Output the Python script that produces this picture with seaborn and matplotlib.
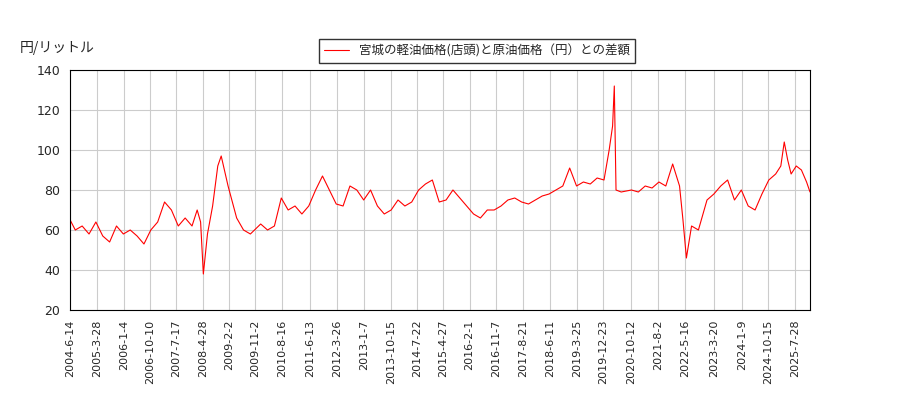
import pandas as pd
import numpy as np
import matplotlib.pyplot as plt
import seaborn as sns

sns.set_style("white")
plt.rcParams['font.family'] = ['Noto Sans CJK JP', 'DejaVu Sans']

# approximate readings (decimal year, yen/litre)
years = [2004.45, 2004.6, 2004.8, 2005.0, 2005.2, 2005.4, 2005.6, 2005.8, 2006.0, 2006.2, 2006.4,
         2006.6, 2006.8, 2007.0, 2007.2, 2007.4, 2007.6, 2007.8, 2008.0, 2008.15, 2008.25, 2008.33,
         2008.45, 2008.6, 2008.75, 2008.85, 2009.05, 2009.3, 2009.5, 2009.7, 2010.0, 2010.2, 2010.4,
         2010.6, 2010.8, 2011.0, 2011.2, 2011.4, 2011.6, 2011.8, 2012.0, 2012.2, 2012.4, 2012.6,
         2012.8, 2013.0, 2013.2, 2013.4, 2013.6, 2013.8, 2014.0, 2014.2, 2014.4, 2014.6, 2014.8,
         2015.0, 2015.2, 2015.4, 2015.6, 2015.8, 2016.0, 2016.2, 2016.4, 2016.6, 2016.8, 2017.0,
         2017.2, 2017.4, 2017.6, 2017.8, 2018.0, 2018.2, 2018.4, 2018.6, 2018.8, 2019.0, 2019.2,
         2019.4, 2019.6, 2019.8, 2020.0, 2020.15, 2020.25, 2020.3, 2020.35, 2020.5, 2020.8, 2021.0,
         2021.2, 2021.4, 2021.6, 2021.8, 2022.0, 2022.2, 2022.3, 2022.4, 2022.55, 2022.75, 2023.0,
         2023.2, 2023.4, 2023.6, 2023.8, 2024.0, 2024.2, 2024.4, 2024.6, 2024.8, 2025.0, 2025.15,
         2025.25, 2025.35, 2025.45, 2025.6, 2025.75, 2025.9, 2026.0]
values = [65, 60, 62, 58, 64, 57, 54, 62, 58, 60, 57,
          53, 60, 64, 74, 70, 62, 66, 62, 70, 64, 38,
          58, 72, 92, 97, 82, 66, 60, 58, 63, 60, 62,
          76, 70, 72, 68, 72, 80, 87, 80, 73, 72, 82,
          80, 75, 80, 72, 68, 70, 75, 72, 74, 80, 83,
          85, 74, 75, 80, 76, 72, 68, 66, 70, 70, 72,
          75, 76, 74, 73, 75, 77, 78, 80, 82, 91, 82,
          84, 83, 86, 85, 100, 112, 132, 80, 79, 80, 79,
          82, 81, 84, 82, 93, 82, 65, 46, 62, 60, 75,
          78, 82, 85, 75, 80, 72, 70, 78, 85, 88, 92,
          104, 95, 88, 92, 90, 84, 79]

tick_labels = ['2004-6-14', '2005-3-28', '2006-1-4', '2006-10-10', '2007-7-17', '2008-4-28',
               '2009-2-2', '2009-11-2', '2010-8-16', '2011-6-13', '2012-3-26', '2013-1-7',
               '2013-10-15', '2014-7-22', '2015-4-27', '2016-2-1', '2016-11-7', '2017-8-21',
               '2018-6-11', '2019-3-25', '2019-12-23', '2020-10-12', '2021-8-2', '2022-5-16',
               '2023-3-20', '2024-1-9', '2024-10-15', '2025-7-28']

def to_year(s):
    d = pd.Timestamp(s)
    return d.year + (d.dayofyear - 1) / 365.25

df = pd.DataFrame({'year': years, 'value': values})

fig = plt.figure(figsize=(9, 4), dpi=100)
ax = fig.add_axes([0.078, 0.225, 0.822, 0.6])
sns.lineplot(data=df, x='year', y='value', color='red', linewidth=0.8, ax=ax,
             label='宮城の軽油価格(店頭)と原油価格（円）との差額')
ax.set_xlim(to_year('2004-6-14'), 2026.0)
ax.set_ylim(20, 140)
ax.set_yticks(range(20, 141, 20))
ax.set_xticks([to_year(t) for t in tick_labels])
ax.set_xticklabels(tick_labels, rotation=90, fontsize=8, family='DejaVu Sans')
for t in ax.get_yticklabels():
    t.set_family('DejaVu Sans')
ax.tick_params(axis='y', labelsize=9)
ax.grid(True, color='#cccccc', linewidth=0.8)
ax.set_xlabel('')
ax.set_ylabel('')
for s in ax.spines.values():
    s.set_color('black')
fig.text(0.022, 0.87, '円/リットル', fontsize=10)
ax.legend(loc='lower center', bbox_to_anchor=(0.55, 1.005), fontsize=9, frameon=True,
          edgecolor='black', fancybox=False)
fig.savefig('out.png')
